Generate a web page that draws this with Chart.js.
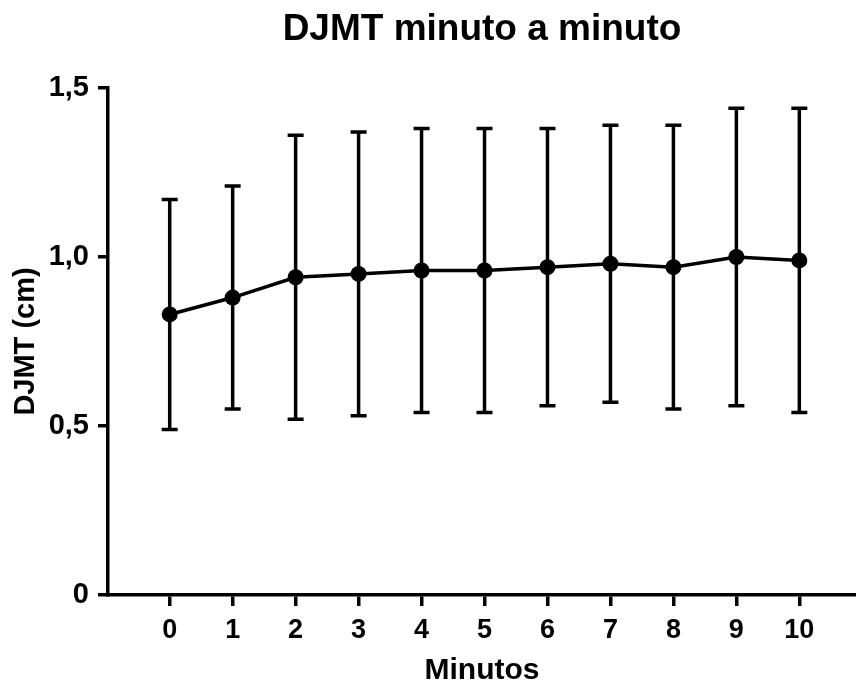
<!DOCTYPE html>
<html>
<head>
<meta charset="utf-8">
<script src="https://cdn.jsdelivr.net/npm/chart.js@4/dist/chart.umd.min.js"></script>
<style>
  html, body { margin: 0; padding: 0; background: #ffffff; }
  #wrap { width: 856px; height: 689px; position: relative; }
</style>
</head>
<body>
<div id="wrap"><canvas id="c" width="856" height="689"></canvas></div>
<script>
// ---- data ----
const minutes = [0, 1, 2, 3, 4, 5, 6, 7, 8, 9, 10];
const meanDJMT = [0.83, 0.88, 0.94, 0.95, 0.96, 0.96, 0.97, 0.98, 0.97, 1.00, 0.99];
const upperDJMT = [1.17, 1.21, 1.36, 1.37, 1.38, 1.38, 1.38, 1.39, 1.39, 1.44, 1.44];
const lowerDJMT = [0.49, 0.55, 0.52, 0.53, 0.54, 0.54, 0.56, 0.57, 0.55, 0.56, 0.54];
const yTickValues = [0, 0.5, 1.0, 1.5];
const yTickLabels = ['0', '0,5', '1,0', '1,5'];
const xTickLabels = ['0', '1', '2', '3', '4', '5', '6', '7', '8', '9', '10'];
const titleText = 'DJMT minuto a minuto';
const xTitle = 'Minutos';
const yTitle = 'DJMT (cm)';

const points = minutes.map((m, i) => ({ x: m, y: meanDJMT[i], hi: upperDJMT[i], lo: lowerDJMT[i] }));

const errorBars = {
  id: 'errorBars',
  beforeDatasetsDraw(chart) {
    const { ctx, scales: { x, y } } = chart;
    ctx.save();
    ctx.strokeStyle = '#000';
    ctx.lineWidth = 3.5;
    ctx.lineCap = 'butt';
    const cap = 8;
    points.forEach(p => {
      const px = x.getPixelForValue(p.x);
      const pHi = y.getPixelForValue(p.hi);
      const pLo = y.getPixelForValue(p.lo);
      ctx.beginPath();
      ctx.moveTo(px, pHi); ctx.lineTo(px, pLo);
      ctx.moveTo(px - cap, pHi); ctx.lineTo(px + cap, pHi);
      ctx.moveTo(px - cap, pLo); ctx.lineTo(px + cap, pLo);
      ctx.stroke();
    });
    ctx.restore();
  }
};

const sans = "'Liberation Sans', Arial, Helvetica, sans-serif";

new Chart(document.getElementById('c'), {
  type: 'scatter',
  data: {
    datasets: [{
      data: points,
      showLine: true,
      borderColor: '#000',
      backgroundColor: '#000',
      borderWidth: 3.5,
      pointRadius: 8,
      pointHoverRadius: 8,
      pointBackgroundColor: '#000',
      pointBorderWidth: 0,
      tension: 0
    }]
  },
  options: {
    responsive: false,
    animation: false,
    events: [],
    layout: { autoPadding: false, padding: { left: 0, right: 0, top: 0, bottom: 0 } },
    plugins: {
      legend: { display: false },
      tooltip: { enabled: false },
      title: {
        display: true,
        text: titleText,
        fullSize: false,
        color: '#000',
        font: { family: sans, size: 37, weight: 'bold', lineHeight: 1.2 },
        padding: { top: 8, bottom: 35.6 }
      }
    },
    scales: {
      x: {
        type: 'linear',
        min: -0.98,
        max: 10.9,
        afterBuildTicks: s => { s.ticks = minutes.map(v => ({ value: v })); },
        afterFit: s => { s.height = 94; },
        ticks: {
          color: '#000',
          font: { family: sans, size: 27, weight: 'bold' },
          padding: 8,
          maxRotation: 0,
          autoSkip: false,
          callback: (v) => xTickLabels[minutes.indexOf(v)]
        },
        grid: { drawOnChartArea: false, color: '#000', lineWidth: 3.5, tickLength: 11 },
        border: { color: '#000', width: 3.5 },
        title: {
          display: true, text: xTitle, color: '#000',
          font: { family: sans, size: 30, weight: 'bold', lineHeight: 1.2 },
          padding: { top: 0, bottom: 0 }
        }
      },
      y: {
        min: 0,
        max: 1.5,
        afterBuildTicks: s => { s.ticks = yTickValues.map(v => ({ value: v })); },
        afterFit: s => { s.width = 108; },
        ticks: {
          color: '#000',
          font: { family: sans, size: 29, weight: 'bold' },
          padding: 9,
          callback: (v) => yTickLabels[yTickValues.indexOf(v)]
        },
        grid: { drawOnChartArea: false, color: '#000', lineWidth: 3.5, tickLength: 10 },
        border: { color: '#000', width: 3.5 },
        title: {
          display: true, text: yTitle, color: '#000',
          font: { family: sans, size: 29, weight: 'bold', lineHeight: 1.2 },
          padding: { top: 9, bottom: 0 }
        }
      }
    }
  },
  plugins: [errorBars]
});
</script>
</body>
</html>
